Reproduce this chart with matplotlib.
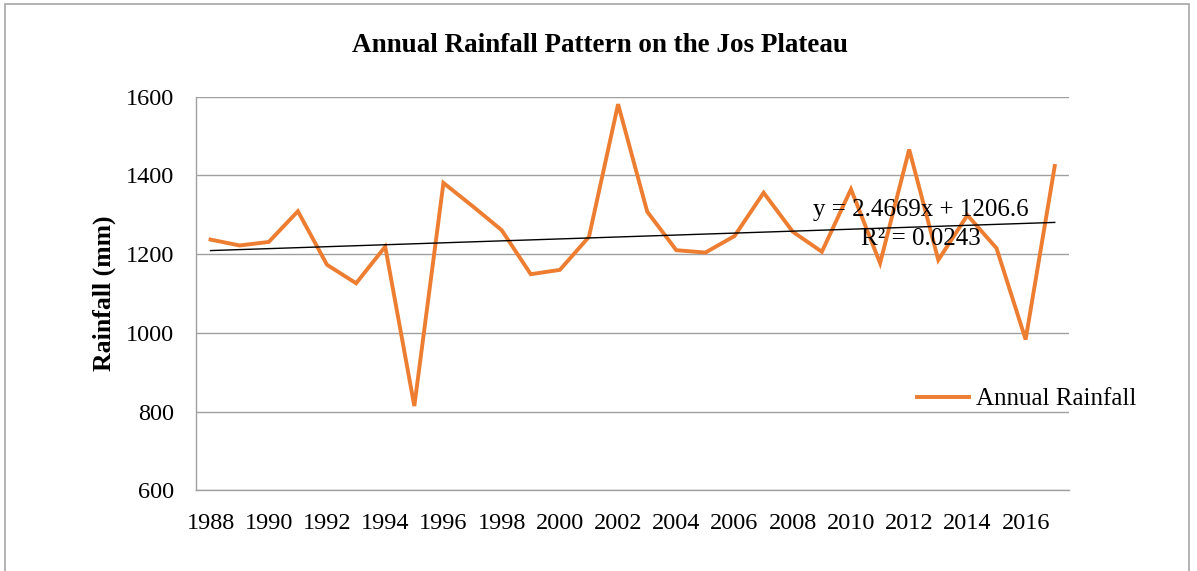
import numpy as np
import matplotlib.pyplot as plt
from matplotlib.patches import Rectangle

# Data
years = np.arange(1988, 2018)
rainfall = np.array([1237, 1222, 1231, 1309, 1173, 1126, 1219, 814, 1381, 1322,
                     1261, 1149, 1160, 1244, 1581, 1308, 1210, 1204, 1246, 1356,
                     1257, 1206, 1365, 1177, 1466, 1185, 1299, 1215, 983, 1424])
trend_slope = 2.4669
trend_intercept = 1206.6
r_squared = 0.0243

plt.rcParams['font.family'] = ['Liberation Serif', 'DejaVu Serif']

fig = plt.figure(figsize=(11.97, 5.71), dpi=100)
ax = fig.add_axes([196 / 1197, 1 - 490.3 / 571, 873.3 / 1197, 393.6 / 571])

# border around the chart area
fig.patches.append(Rectangle((5 / 1197, -0.05), 1184 / 1197, 1 - 4.5 / 571 + 0.05,
                             transform=fig.transFigure, fill=False,
                             edgecolor='#a6a6a6', linewidth=1.2))

pos = np.arange(len(years))
line, = ax.plot(pos, rainfall, color='#ED7D31', linewidth=2.8,
                solid_joinstyle='miter', label='Annual Rainfall', zorder=3)

trend = trend_slope * (pos + 1) + trend_intercept
ax.plot(pos, trend, color='black', linewidth=1.0, zorder=4)

ax.text(24.4, 1312, f'y = {trend_slope}x + {trend_intercept}', ha='center',
        va='center', fontsize=18, zorder=5)
ax.text(24.4, 1238, f'R² = {r_squared}', ha='center', va='center',
        fontsize=18, zorder=5)

ax.set_xlim(-0.5, len(years) - 0.5)
ax.set_ylim(600, 1600)
ax.set_yticks(np.arange(600, 1601, 200))
ax.set_xticks(pos[::2])
ax.set_xticklabels([str(y) for y in years[::2]])
ax.tick_params(axis='both', length=0, labelsize=17.5)
ax.tick_params(axis='y', pad=16)
ax.tick_params(axis='x', pad=16.5)
ax.yaxis.grid(True, color='#a0a0a0', linewidth=1.0)
ax.set_axisbelow(True)
for s in ['top', 'right']:
    ax.spines[s].set_visible(False)
for s in ['left', 'bottom']:
    ax.spines[s].set_color('#a0a0a0')
    ax.spines[s].set_linewidth(1.0)

ax.set_ylabel('Rainfall (mm)', fontsize=18.5, fontweight='bold', labelpad=7)
fig.text(600 / 1197, 1 - 45 / 571, 'Annual Rainfall Pattern on the Jos Plateau',
         ha='center', va='center', fontsize=19.5, fontweight='bold')

fig.legend(handles=[line], loc='center left',
           bbox_to_anchor=(894 / 1197, 1 - 399 / 571), frameon=False,
           fontsize=18, handlelength=2.1, handletextpad=0.28)

fig.savefig('out.png', dpi=100)
